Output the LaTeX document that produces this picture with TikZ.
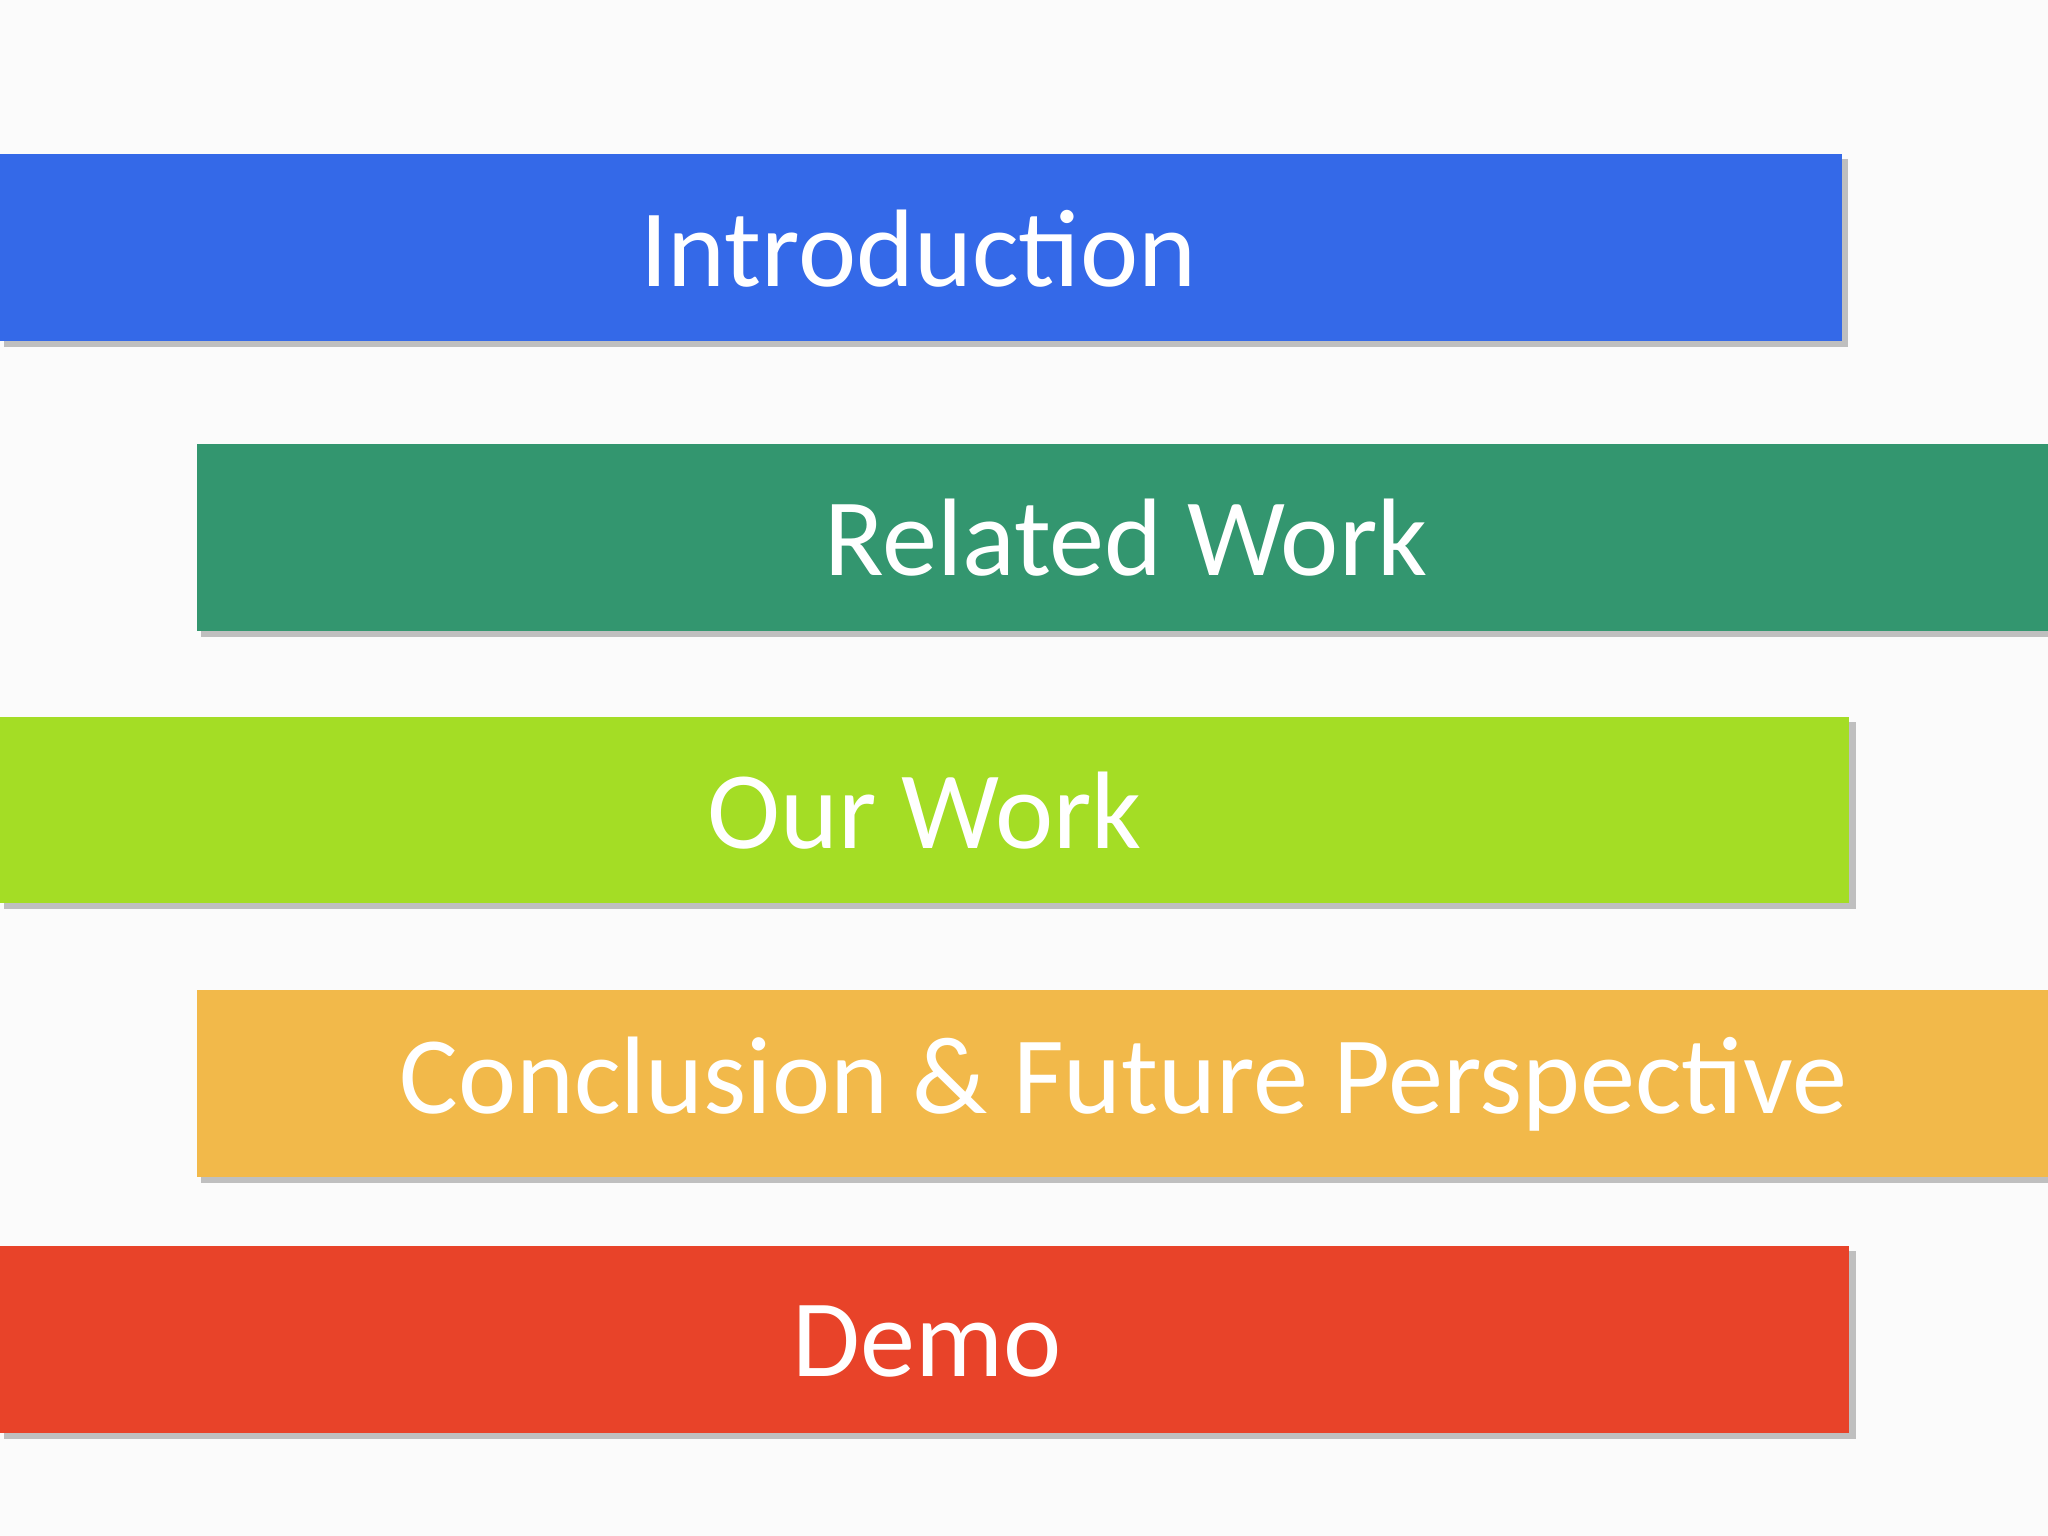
\documentclass[tikz,border=0pt]{standalone}
\usepackage{fontspec}
\setmainfont{Carlito}
\definecolor{cblue}{HTML}{3469E8}
\definecolor{cgreen}{HTML}{33966F}
\definecolor{clime}{HTML}{A4DD25}
\definecolor{corange}{HTML}{F2B94A}
\definecolor{cred}{HTML}{E84329}
\definecolor{cbg}{HTML}{FBFBFB}
\tikzset{
  bar/.style={draw=none, inner sep=0pt, text=white, font=\fontsize{24}{28}\selectfont},
  shade/.style={fill=black!25, draw=none}
}
\begin{document}
\begin{tikzpicture}[x=0.01cm,y=-0.01cm]
\fill[cbg] (0,0) rectangle (1568,1176);
\useasboundingbox (0,0) rectangle (1568,1176);
% shadows
\foreach \a/\b/\c/\d in {0/118/1410/261, 151/340/1568/483, 0/549/1416/691, 151/758/1568/901, 0/954/1416/1097}{
  \fill[shade] (\a+3,\b+4) rectangle (\c+5,\d+5);
}
\fill[cblue] (0,118) rectangle (1410,261);
\fill[cgreen] (151,340) rectangle (1568,483);
\fill[clime] (0,549) rectangle (1416,691);
\fill[corange] (151,758) rectangle (1568,901);
\fill[cred] (0,954) rectangle (1416,1097);
\node[bar] (intro) at (703,190) {Introduction};
\node[bar] (rel) at (862,412) {Related Work};
\node[bar] (our) at (708,621) {Our Work};
\node[bar] (conc) at (860,830) {Conclusion \& Future Perspective};
\node[bar] (demo) at (710,1027) {Demo};
\end{tikzpicture}
\end{document}
